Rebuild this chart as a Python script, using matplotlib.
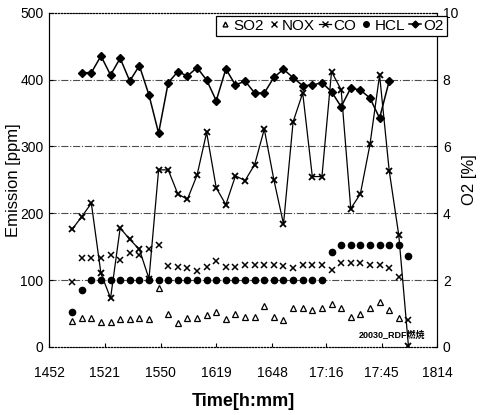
import matplotlib.pyplot as plt
from matplotlib.lines import Line2D
import numpy as np

plt.rcParams['font.family'] = ['Liberation Sans', 'Noto Sans CJK JP']

# sampling: first sample 12 min after 14:52, then every 5 min
start_min = 12
step_min = 5

so2 = [39, 44, 44, 37, 37, 42, 42, 43, 42, 88, 50, 36, 44, 43, 48, 53, 42, 49,
       45, 45, 61, 45, 40, 58, 58, 56, 58, 65, 58, 45, 50, 59, 68, 55, 43]
nox = [97, 133, 133, 133, 137, 130, 140, 138, 146, 152, 121, 120, 118, 114, 120, 128, 120, 120,
       122, 123, 123, 123, 121, 118, 123, 123, 123, 115, 126, 126, 126, 123, 123, 118, 105, 40]
co = [176, 195, 215, 110, 73, 178, 161, 146, 102, 265, 265, 229, 221, 257, 321, 238, 213, 256,
      249, 273, 326, 250, 184, 337, 380, 255, 255, 412, 385, 207, 229, 303, 407, 264, 167, 2]
hcl = [53, 85] + [100] * 25 + [142] + [152] * 7 + [136]
# O2 starts at the second sample
o2 = [8.21, 8.21, 8.71, 8.14, 8.64, 7.96, 8.42, 7.54, 6.40, 7.91, 8.24, 8.11, 8.36, 7.99, 7.37,
      8.32, 7.84, 7.96, 7.60, 7.60, 8.07, 8.31, 8.06, 7.82, 7.84, 7.91, 7.64, 7.19, 7.75, 7.69,
      7.45, 6.85, 7.96]

tick_min = [0, 29, 58, 87, 116, 144, 173, 202]
tick_lbl = ['1452', '1521', '1550', '1619', '1648', '17:16', '17:45', '1814']


def times(n, offset=0):
    return start_min + step_min * (np.arange(n) + offset)


fig = plt.figure(figsize=(4.81, 4.15), dpi=100)
ax = fig.add_axes([0.102, 0.164, 0.807, 0.805])
ax2 = ax.twinx()

for v in [100, 200, 300, 400]:
    ax.axhline(v, color='0.3', lw=0.8, ls='-.', zorder=0)

ax.plot(times(len(so2)), so2, ls='none', marker='^', ms=4, mfc='white', mec='black', mew=0.9)
ax.plot(times(len(nox)), nox, ls='none', marker='x', ms=4.5, color='black', mew=1.1)
ax.plot(times(len(co)), co, color='black', lw=0.9, marker='x', ms=4.5, mew=1.3)
ax.plot(times(len(hcl)), hcl, ls='none', marker='o', ms=4.5, color='black')
ax2.plot(times(len(o2), 1), o2, color='black', lw=1.1, marker='D', ms=3.8)

ax.set_xlim(0, 202)
ax.set_ylim(0, 500)
ax2.set_ylim(0, 10)
ax.set_xticks(tick_min)
ax.set_xticklabels(tick_lbl)
ax.set_yticks([0, 100, 200, 300, 400, 500])
ax2.set_yticks([0, 2, 4, 6, 8, 10])

for a in (ax, ax2):
    a.tick_params(direction='in', length=3, labelsize=10, pad=4)
    a.spines['top'].set_linestyle(':')
    a.spines['bottom'].set_linestyle(':')
ax.tick_params(axis='x', pad=14)

ax.set_ylabel('Emission [ppm]', fontsize=12)
ax.yaxis.set_label_coords(-0.072, 0.5)
ax2.set_ylabel('O2 [%]', fontsize=12)
ax2.yaxis.set_label_coords(1.065, 0.5)
ax.set_xlabel('Time[h:mm]', fontsize=13, fontweight='bold', labelpad=9)

ax.text(196, 18, '20030_RDF燃焼', ha='right', va='center', fontsize=6.5, fontweight='bold')

handles = [
    Line2D([], [], ls='none', marker='^', ms=3.5, mfc='white', mec='black'),
    Line2D([], [], ls='none', marker='x', ms=4, color='black'),
    Line2D([], [], color='black', lw=0.9, marker='x', ms=4),
    Line2D([], [], ls='none', marker='o', ms=4, color='black'),
    Line2D([], [], color='black', lw=1.1, marker='D', ms=3.5),
]
labels = ['SO2', 'NOX', 'CO', 'HCL', 'O2']
leg = ax2.legend(handles, labels, ncol=5, loc='upper right', bbox_to_anchor=(0.929, 0.962),
                 bbox_transform=fig.transFigure, fontsize=11, handlelength=0.8,
                 handletextpad=0.15, columnspacing=0.25, borderpad=0.2, borderaxespad=0,
                 fancybox=False, edgecolor='black', framealpha=1)
leg.get_frame().set_linewidth(0.9)

fig.savefig('out.png', dpi=100)
